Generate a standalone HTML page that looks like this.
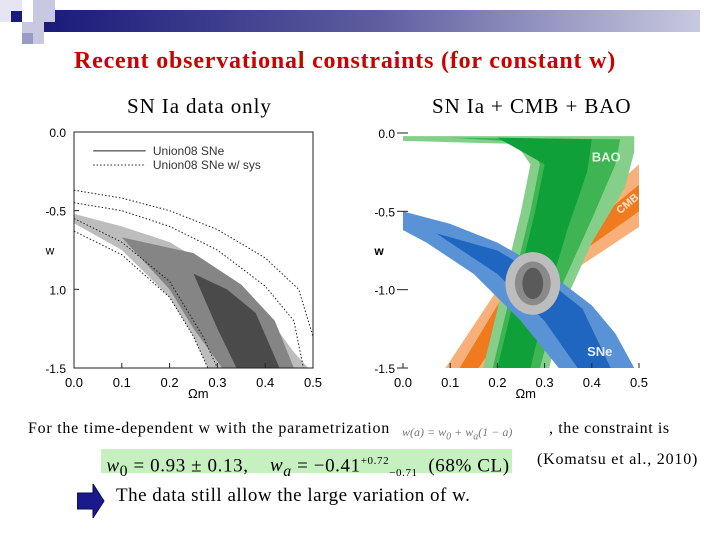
<!DOCTYPE html>
<html><head><meta charset="utf-8"><style>
body{margin:0;width:720px;height:540px;background:#fff;position:relative;overflow:hidden;font-family:"Liberation Serif",serif}
.abs{position:absolute;white-space:nowrap}
</style></head><body>
<div class="abs" style="left:44px;top:10px;width:656px;height:22px;background:linear-gradient(90deg,#1a1a7a,#5c5c9e 50%,#c8c8e0)"></div>
<div class="abs" style="left:0;top:0;width:22px;height:22px;background:#e6e6f2"></div>
<div class="abs" style="left:11px;top:11px;width:11px;height:11px;background:#1a1a7a"></div>
<div class="abs" style="left:33px;top:0;width:22px;height:22px;background:#c8c8e0"></div>
<div class="abs" style="left:22px;top:22px;width:22px;height:22px;background:#c8c8e0"></div>
<div class="abs" style="left:22px;top:33px;width:11px;height:11px;background:#9a9ac8"></div>
<div class="abs" style="left:74px;top:48px;font-size:24px;letter-spacing:0.8px;font-weight:bold;color:#cc0000">Recent observational constraints (for constant w)</div>
<div class="abs" style="left:127px;top:94px;font-size:21px;letter-spacing:0.9px">SN Ia data only</div>
<div class="abs" style="left:432px;top:94px;font-size:21px;letter-spacing:0.9px">SN Ia + CMB + BAO</div>
<svg class="abs" style="left:0;top:0" width="720" height="540" id="svg"></svg>
<div class="abs" style="left:28px;top:420px;font-size:16px;letter-spacing:0.75px">For the time-dependent w with the parametrization</div>
<div class="abs" style="left:402px;top:425px;font-size:12px;color:#777;font-style:italic">w(a) = w<sub>0</sub> + w<sub>a</sub>(1 − a)</div>
<div class="abs" style="left:549px;top:420px;font-size:16px;letter-spacing:0.6px">, the constraint is</div>
<div class="abs" style="left:101px;top:449px;width:411px;height:24px;background:#c6f0c0;font-size:19px;line-height:24px;letter-spacing:0.6px">&nbsp;<i>w</i><sub>0</sub> = 0.93 ± 0.13, &nbsp;&nbsp; <i>w<sub>a</sub></i> = −0.41<sup style="font-size:11px">+0.72</sup><sub style="font-size:11px">−0.71</sub> &nbsp;(68% CL)</div>
<div class="abs" style="left:537px;top:451px;font-size:16px;letter-spacing:0.8px">(Komatsu et al., 2010)</div>
<svg class="abs" style="left:77px;top:484px" width="28" height="34"><polygon points="0,9 16,9 16,0 27,17 16,34 16,25 0,25" fill="#1a1a8c" stroke="#0a0a50"/></svg>
<div class="abs" style="left:116px;top:485px;font-size:19px;letter-spacing:0.5px">The data still allow the large variation of w.</div>
<script>
const xTicks=[0.0,0.1,0.2,0.3,0.4,0.5];
const yTicks=[0.0,-0.5,-1.0,-1.5];
const yTickLabelsL=["0.0","-0.5","1.0","-1.5"];
const yTickLabelsR=["0.0","-0.5","-1.0","-1.5"];
// left chart contours [Omega_m, w]
const snLight=[[0,-0.52],[0.1,-0.6],[0.2,-0.7],[0.3,-0.88],[0.4,-1.15],[0.46,-1.4],[0.49,-1.5],[0.28,-1.5],[0.25,-1.3],[0.2,-1.05],[0.1,-0.75],[0,-0.58]];
const snMid=[[0.1,-0.67],[0.25,-0.77],[0.35,-0.97],[0.42,-1.2],[0.46,-1.5],[0.31,-1.5],[0.25,-1.25],[0.2,-1.0]];
const snDark=[[0.25,-0.9],[0.32,-1.0],[0.38,-1.15],[0.43,-1.5],[0.34,-1.5],[0.3,-1.25]];
const sysOuter1=[[0,-0.37],[0.1,-0.42],[0.2,-0.5],[0.3,-0.62],[0.4,-0.8],[0.47,-1.0],[0.5,-1.3]];
const sysOuter2=[[0,-0.45],[0.1,-0.5],[0.2,-0.6],[0.3,-0.75],[0.4,-0.98],[0.46,-1.2],[0.48,-1.5]];
const sysInner1=[[0,-0.63],[0.1,-0.78],[0.2,-1.05],[0.25,-1.3],[0.28,-1.5]];
const sysInner2=[[0,-0.55],[0.1,-0.7],[0.2,-0.95],[0.27,-1.3],[0.3,-1.5]];
// right chart
const cmbOuter=[[0.09,-1.5],[0.2,-1.0],[0.35,-0.6],[0.5,-0.2],[0.5,-0.6],[0.35,-0.9],[0.25,-1.2],[0.19,-1.5]];
const cmbInner=[[0.12,-1.5],[0.21,-1.05],[0.36,-0.68],[0.5,-0.33],[0.5,-0.5],[0.35,-0.82],[0.24,-1.15],[0.16,-1.5]];
const baoOuter=[[0,-0.02],[0.49,-0.02],[0.49,-0.12],[0.47,-0.35],[0.4,-0.7],[0.34,-1.1],[0.31,-1.5],[0.17,-1.5],[0.21,-1.0],[0.25,-0.5],[0.27,-0.2],[0.24,-0.07],[0,-0.05]];
const baoMid=[[0.1,-0.03],[0.46,-0.04],[0.45,-0.2],[0.4,-0.55],[0.34,-0.95],[0.29,-1.5],[0.19,-1.5],[0.23,-1.0],[0.27,-0.5],[0.29,-0.2],[0.27,-0.06]];
const baoDark=[[0.2,-0.03],[0.4,-0.04],[0.39,-0.25],[0.35,-0.6],[0.31,-1.0],[0.27,-1.5],[0.2,-1.5],[0.24,-1.0],[0.28,-0.5],[0.3,-0.2]];
const blueOuter=[[0,-0.5],[0.1,-0.58],[0.2,-0.7],[0.3,-0.87],[0.4,-1.1],[0.45,-1.28],[0.49,-1.5],[0.33,-1.5],[0.25,-1.2],[0.15,-0.9],[0.05,-0.7],[0,-0.62]];
const blueInner=[[0.07,-0.64],[0.2,-0.75],[0.3,-0.93],[0.38,-1.12],[0.44,-1.5],[0.37,-1.5],[0.3,-1.2],[0.2,-0.9]];
const ellipseC=[0.275,-0.96];
const ellipseR=[[0.058,0.2],[0.038,0.14],[0.022,0.1]];
const NS="http://www.w3.org/2000/svg";
const svg=document.getElementById('svg');
function mk(t,a,name,p){const e=document.createElementNS(NS,t);for(const k in a)e.setAttribute(k,a[k]);


(p||svg).appendChild(e);return e;}
function chart(px0,px1,py0,py1,opts){
 const sx=v=>px0+(v-0)/(0.5)*(px1-px0);
 const sy=v=>py0+(0-v)/1.5*(py1-py0);
 const g=mk('g',{},opts.name);
 const cp='clip'+opts.name;
 const d=mk('clipPath',{id:cp},'clip',g);mk('rect',{x:px0,y:py0,width:px1-px0,height:py1-py0},'clip-rect',d);
 const pg=mk('g',{'clip-path':'url(#'+cp+')'},'plot-area',g);
 const poly=(arr,fill,name)=>mk('polygon',{points:arr.map(p=>sx(p[0])+','+sy(p[1])).join(' '),fill:fill},name,pg);
 const line=(arr,name)=>mk('polyline',{points:arr.map(p=>sx(p[0])+','+sy(p[1])).join(' '),fill:'none',stroke:'#222','stroke-width':1,'stroke-dasharray':'1.5,2'},name,pg);
 opts.draw(poly,line,sx,sy,pg);
 if(opts.frame)mk('rect',{x:px0,y:py0,width:px1-px0,height:py1-py0,fill:'none',stroke:'#222','stroke-width':1},'plot-frame',g);
 xTicks.forEach((t,i)=>{const x=sx(t);
  mk('line',{x1:x,x2:x,y1:py1,y2:py1-5,stroke:'#222'},'x-tick',g);
  const tx=mk('text',{x:x,y:py1+19,'text-anchor':'middle','font-size':13,'font-family':'Liberation Sans, sans-serif'},'x-tick-label',g);tx.textContent=t.toFixed(1);});
 yTicks.forEach((t,i)=>{const y=sy(t);
  mk('line',{x1:px0-(opts.frame?0:6),x2:px0+5,y1:y,y2:y,stroke:'#222'},'y-tick',g);
  const tx=mk('text',{x:px0-8,y:y+5,'text-anchor':'end','font-size':12,'font-family':'Liberation Sans, sans-serif'},'y-tick-label',g);tx.textContent=opts.ylabels[i];});
 const xl=mk('text',{x:sx(0.26),y:py1+30,'text-anchor':'middle','font-size':13,'font-family':'Liberation Sans, sans-serif'},'x-axis-title',g);xl.textContent='Ωm';
 const yl=mk('text',{x:px0-24,y:sy(-0.78),'text-anchor':'middle','font-size':12,'font-weight':opts.frame?'normal':'bold','font-family':'Liberation Sans, sans-serif'},'y-axis-title',g);yl.textContent='w';
 return {sx,sy,g};
}
chart(74,313,132,368,{name:'left-chart',frame:true,ylabels:yTickLabelsL,draw:(poly,line,sx,sy,pg)=>{
 poly(snLight,'#bdbdbd','sn-contour-95');poly(snMid,'#858585','sn-contour-68');poly(snDark,'#4a4a4a','sn-contour-inner');
 line(sysOuter1,'sys-contour-outer-1');line(sysOuter2,'sys-contour-outer-2');line(sysInner1,'sys-contour-inner-1');line(sysInner2,'sys-contour-inner-2');
 mk('line',{x1:sx(0.04),x2:sx(0.15),y1:sy(-0.12),y2:sy(-0.12),stroke:'#222'},'legend-line-solid',pg);
 mk('line',{x1:sx(0.04),x2:sx(0.15),y1:sy(-0.21),y2:sy(-0.21),stroke:'#222','stroke-dasharray':'1.5,2'},'legend-line-dotted',pg);
 let t=mk('text',{x:sx(0.165),y:sy(-0.12)+4,'font-size':12,'font-family':'Liberation Sans, sans-serif',fill:'#333'},'legend-entry-union08',pg);t.textContent='Union08 SNe';
 t=mk('text',{x:sx(0.165),y:sy(-0.21)+4,'font-size':12,'font-family':'Liberation Sans, sans-serif',fill:'#333'},'legend-entry-union08-sys',pg);t.textContent='Union08 SNe w/ sys';
}});
chart(403,639,133,368,{name:'right-chart',frame:false,ylabels:yTickLabelsR,draw:(poly,line,sx,sy,pg)=>{
 poly(cmbOuter,'#f7b07a','cmb-contour-95');poly(cmbInner,'#f07a1e','cmb-contour-68');
 poly(baoOuter,'#86cf8a','bao-contour-95');poly(baoMid,'#3fb452','bao-contour-68');poly(baoDark,'#0fa03a','bao-contour-inner');
 poly(blueOuter,'#5a92d6','sne-contour-95');poly(blueInner,'#1f66c0','sne-contour-68');
 const fills=['#bdbdbd','#8a8a8a','#5a5a5a'];
 ellipseR.forEach((r,i)=>mk('ellipse',{cx:sx(ellipseC[0]),cy:sy(ellipseC[1]),rx:sx(r[0])-sx(0),ry:sy(-r[1])-sy(0),fill:fills[i]},'combined-contour-'+i,pg));
 let t=mk('text',{x:sx(0.4),y:sy(-0.15)+5,'font-size':13,'font-weight':'bold','font-family':'Liberation Sans, sans-serif',fill:'#dff5df'},'bao-label',pg);t.textContent='BAO';
 t=mk('text',{x:sx(0.39),y:sy(-1.39)+5,'font-size':13,'font-weight':'bold','font-family':'Liberation Sans, sans-serif',fill:'#e6eeff'},'sne-label',pg);t.textContent='SNe';
 t=mk('text',{x:sx(0.46),y:sy(-0.52),'font-size':11,'font-weight':'bold','font-family':'Liberation Sans, sans-serif',fill:'#fde2c8',transform:'rotate(-40 '+sx(0.46)+' '+sy(-0.52)+')'},'cmb-label',pg);t.textContent='CMB';
}});
</script>
</body></html>
